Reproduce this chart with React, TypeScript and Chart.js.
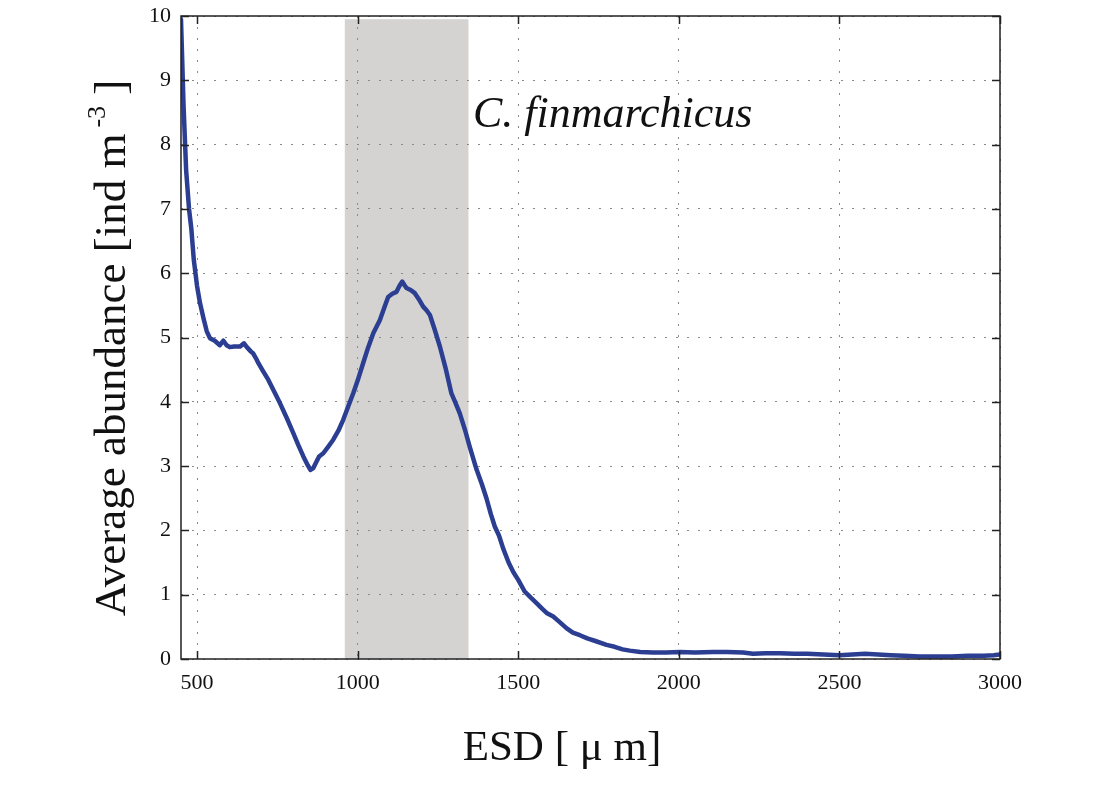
import React, { useEffect, useRef } from 'react';
import { Chart, registerables } from 'chart.js';

Chart.register(...registerables);

// ESD [µm] sample positions
const esd = [
  450, 458, 466, 475, 482, 490, 500, 509, 520, 530, 540, 555, 571, 582, 592, 602, 615, 634, 646, 655,
  668, 675, 683, 691, 705, 722, 740, 758, 780, 800, 815, 831, 845, 853, 862, 872, 880, 893, 908, 924,
  940, 955, 970, 986, 1000, 1017, 1033, 1049, 1060, 1069, 1082, 1095, 1108, 1121, 1130, 1139, 1145, 1152, 1165, 1178,
  1190, 1204, 1215, 1225, 1240, 1256, 1275, 1292, 1305, 1318, 1335, 1349, 1370, 1386, 1401, 1415, 1427, 1440, 1453, 1470,
  1485, 1500, 1520, 1540, 1557, 1575, 1590, 1609, 1630, 1650, 1670, 1692, 1715, 1740, 1775, 1800, 1825, 1847, 1880, 1920,
  1960, 2003, 2050, 2107, 2150, 2200, 2231, 2270, 2314, 2360, 2400, 2450, 2500, 2540, 2580, 2620, 2660, 2700, 2750, 2800,
  2850, 2900, 2950, 2980, 3000,
];

// Average abundance [ind m^-3]
const abundance = [
  9.95, 8.6, 7.6, 7.0, 6.7, 6.2, 5.8, 5.54, 5.3, 5.1, 4.99, 4.95, 4.88, 4.95, 4.88, 4.85, 4.86, 4.86, 4.91, 4.85,
  4.78, 4.75, 4.68, 4.6, 4.48, 4.34, 4.16, 3.98, 3.74, 3.51, 3.33, 3.15, 3.01, 2.94, 2.97, 3.07, 3.15, 3.2, 3.3, 3.41,
  3.55, 3.72, 3.92, 4.13, 4.33, 4.6, 4.85, 5.07, 5.18, 5.27, 5.45, 5.63, 5.68, 5.71, 5.8, 5.87, 5.82, 5.77, 5.74, 5.69,
  5.6, 5.48, 5.42, 5.35, 5.12, 4.86, 4.5, 4.13, 3.98, 3.82, 3.55, 3.3, 2.95, 2.73, 2.5, 2.25, 2.06, 1.92, 1.72, 1.5,
  1.35, 1.23, 1.05, 0.95, 0.87, 0.78, 0.71, 0.66, 0.57, 0.48, 0.41, 0.37, 0.32, 0.28, 0.22, 0.19, 0.15, 0.13, 0.11, 0.1,
  0.1, 0.11, 0.1, 0.11, 0.11, 0.1, 0.08, 0.09, 0.09, 0.08, 0.08, 0.07, 0.06, 0.07, 0.08, 0.07, 0.06, 0.05, 0.04, 0.04,
  0.04, 0.05, 0.05, 0.06, 0.07,
];

const xTickValues = [500, 1000, 1500, 2000, 2500, 3000];
const yTickValues = [0, 1, 2, 3, 4, 5, 6, 7, 8, 9, 10];
const xRange = [450, 3000];
const yRange = [0, 10];

// shaded C. finmarchicus size window
const shadeRange = [960, 1345];
const shadeTop = 9.95;

const speciesLabel = 'C. finmarchicus';
const speciesLabelAt = { x: 1359, y: 8.27 };

const xTitle = 'ESD [ \u03bc m]';
const yTitleMain = 'Average abundance [ind m';
const yTitleSup = '-3';
const yTitleEnd = ' ]';

const SERIF = '"Liberation Serif", "Times New Roman", serif';
const LINE_COLOR = '#2b3e92';
const SHADE_COLOR = '#d5d3d1';

const framePlugin = {
  id: 'frame',
  beforeDraw(chart: any) {
    const { ctx, scales } = chart;
    const x = scales.x;
    const y = scales.y;
    const x0 = x.getPixelForValue(shadeRange[0]);
    const x1 = x.getPixelForValue(shadeRange[1]);
    const yT = y.getPixelForValue(shadeTop);
    const yB = y.getPixelForValue(0);
    ctx.save();
    ctx.fillStyle = SHADE_COLOR;
    ctx.fillRect(x0, yT, x1 - x0, yB - yT);
    ctx.restore();
  },
  afterDraw(chart: any) {
    const { ctx, chartArea, scales } = chart;
    const { left, right, top, bottom } = chartArea;
    const x = scales.x;
    const y = scales.y;
    ctx.save();
    // box
    ctx.strokeStyle = '#222';
    ctx.lineWidth = 1.5;
    ctx.strokeRect(left, top, right - left, bottom - top);
    // inward ticks
    const tl = 8;
    ctx.beginPath();
    xTickValues.forEach((v) => {
      const px = Math.round(x.getPixelForValue(v)) + 0.5;
      ctx.moveTo(px, bottom);
      ctx.lineTo(px, bottom - tl);
      ctx.moveTo(px, top);
      ctx.lineTo(px, top + tl);
    });
    yTickValues.forEach((v) => {
      const py = Math.round(y.getPixelForValue(v)) + 0.5;
      ctx.moveTo(left, py);
      ctx.lineTo(left + tl, py);
      ctx.moveTo(right, py);
      ctx.lineTo(right - tl, py);
    });
    ctx.stroke();

    // species annotation
    ctx.fillStyle = '#111';
    ctx.font = `italic 44px ${SERIF}`;
    ctx.textAlign = 'left';
    ctx.textBaseline = 'alphabetic';
    ctx.fillText(speciesLabel, x.getPixelForValue(speciesLabelAt.x), y.getPixelForValue(speciesLabelAt.y));

    // x title
    ctx.font = `43px ${SERIF}`;
    ctx.textAlign = 'center';
    ctx.fillText(xTitle, 562, 760);

    // y title (rotated, with superscript)
    const mainFont = `45px ${SERIF}`;
    const supFont = `26px ${SERIF}`;
    ctx.font = mainFont;
    const w1 = ctx.measureText(yTitleMain).width;
    const w3 = ctx.measureText(yTitleEnd).width;
    ctx.font = supFont;
    const w2 = ctx.measureText(yTitleSup).width + 6;
    const total = w1 + w2 + w3;
    ctx.translate(125, 348);
    ctx.rotate(-Math.PI / 2);
    ctx.textAlign = 'left';
    let cx = -total / 2;
    ctx.font = mainFont;
    ctx.fillText(yTitleMain, cx, 0);
    cx += w1;
    ctx.font = supFont;
    ctx.fillText(yTitleSup, cx + 6, -20);
    cx += w2;
    ctx.font = mainFont;
    ctx.fillText(yTitleEnd, cx, 0);
    ctx.restore();
  },
};

export default function App() {
  const canvasRef = useRef<HTMLCanvasElement | null>(null);

  useEffect(() => {
    const canvas = canvasRef.current;
    if (!canvas) return;
    const points = esd.map((v, i) => ({ x: v, y: abundance[i] }));
    const chart = new Chart(canvas, {
      type: 'line',
      data: {
        datasets: [
          {
            data: points,
            borderColor: LINE_COLOR,
            borderWidth: 4.5,
            pointRadius: 0,
            tension: 0,
            fill: false,
            borderJoinStyle: 'round',
            borderCapStyle: 'round',
          },
        ],
      },
      options: {
        responsive: false,
        animation: false,
        parsing: false,
        layout: { padding: { left: 0, top: 16, right: 95, bottom: 0 } },
        plugins: { legend: { display: false }, tooltip: { enabled: false } },
        scales: {
          x: {
            type: 'linear',
            min: xRange[0],
            max: xRange[1],
            afterBuildTicks: (scale: any) => {
              scale.ticks = xTickValues.map((v) => ({ value: v }));
            },
            afterFit: (scale: any) => {
              scale.height = 135;
              scale.paddingLeft = 0;
              scale.paddingRight = 0;
            },
            grid: { color: '#8a8a8a', lineWidth: 1, drawTicks: false },
            border: { display: false, dash: [2, 9] },
            ticks: {
              padding: 11,
              color: '#111',
              font: { family: SERIF, size: 22 },
              maxRotation: 0,
              autoSkip: false,
              callback: (v: any) => String(v),
            },
          },
          y: {
            type: 'linear',
            min: yRange[0],
            max: yRange[1],
            afterBuildTicks: (scale: any) => {
              scale.ticks = yTickValues.map((v) => ({ value: v }));
            },
            afterFit: (scale: any) => {
              scale.width = 181;
              scale.paddingTop = 0;
              scale.paddingBottom = 0;
            },
            grid: { color: '#8a8a8a', lineWidth: 1, drawTicks: false },
            border: { display: false, dash: [2, 9] },
            ticks: {
              padding: 10,
              color: '#111',
              font: { family: SERIF, size: 22 },
              autoSkip: false,
              callback: (v: any) => String(v),
            },
          },
        },
      },
      plugins: [framePlugin],
    } as any);
    return () => chart.destroy();
  }, []);

  return (
    <div style={{ position: 'absolute', left: 0, top: 0, width: 1095, height: 794, background: '#fff' }}>
      <canvas ref={canvasRef} width={1095} height={794} />
    </div>
  );
}
